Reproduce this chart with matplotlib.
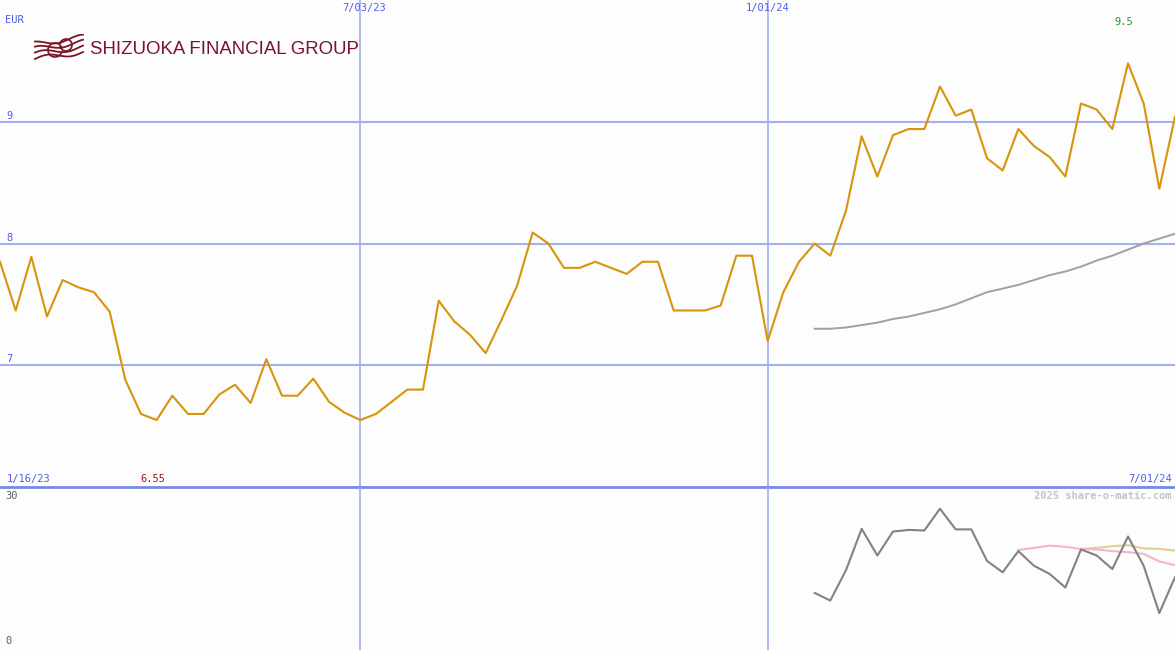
import numpy as np
import pandas as pd
import matplotlib
matplotlib.use("Agg")
import matplotlib.pyplot as plt

# ── data (weekly closes, EUR) ────────────────────────────────────────────────
dates = pd.date_range("2023-01-23", periods=76, freq="7D")
price = [
    7.85, 7.45, 7.89, 7.40, 7.70, 7.64, 7.60, 7.44, 6.88, 6.60,
    6.55, 6.75, 6.60, 6.60, 6.76, 6.84, 6.69, 7.05, 6.75, 6.75,
    6.89, 6.70, 6.61, 6.55, 6.60, 6.70, 6.80, 6.80, 7.53, 7.36,
    7.25, 7.10, 7.37, 7.65, 8.09, 8.00, 7.80, 7.80, 7.85, 7.80,
    7.75, 7.85, 7.85, 7.45, 7.45, 7.45, 7.49, 7.90, 7.90, 7.20,
    7.60, 7.85, 8.00, 7.90, 8.27, 8.88, 8.55, 8.89, 8.94, 8.94,
    9.29, 9.05, 9.10, 8.70, 8.60, 8.94, 8.80, 8.71, 8.55, 9.15,
    9.10, 8.94, 9.48, 9.15, 8.45, 9.04,
]
ma_start = 52
ma = [
    7.30, 7.30, 7.31, 7.33, 7.35, 7.38, 7.40, 7.43, 7.46, 7.50,
    7.55, 7.60, 7.63, 7.66, 7.70, 7.74, 7.77, 7.81, 7.86, 7.90,
    7.95, 8.00, 8.04, 8.08,
]
osc_start = 52
osc = [
    10.5, 9.1, 14.7, 22.3, 17.4, 21.8, 22.1, 22.0, 26.0, 22.2,
    22.2, 16.4, 14.3, 18.2, 15.5, 14.0, 11.5, 18.5, 17.4, 14.9,
    20.9, 15.5, 6.8, 13.4,
]
pink_start = 65
pink = [18.4, 18.8, 19.2, 19.0, 18.6, 18.5, 18.2, 18.0, 17.7, 16.3, 15.6]
tan_start = 69
tan = [18.6, 18.8, 19.1, 19.3, 18.7, 18.6, 18.3]

y_grid = [7, 8, 9]
x_grid = [pd.Timestamp("2023-07-03"), pd.Timestamp("2024-01-01")]
x0, x1 = pd.Timestamp("2023-01-23"), pd.Timestamp("2024-07-01")

# ── style ────────────────────────────────────────────────────────────────────
BG = "#fcfdfc"
GRID = "#a3b0f2"
SEP = "#7888e8"
LBL = "#4f5fe8"
ORANGE = "#d8940a"
MONO = "DejaVu Sans Mono"

W, H = 1175, 650
fig = plt.figure(figsize=(W / 100, H / 100), dpi=100, facecolor=BG)

ax = fig.add_axes([0, 163 / H, 1, 487 / H])
axl = fig.add_axes([0, 0, 1, 163 / H])
for a in (ax, axl):
    a.patch.set_alpha(0)
    a.set_xlim(x0, x1)
    a.set_xticks([])
    a.set_yticks([])
    for s in a.spines.values():
        s.set_visible(False)
    for xv in x_grid:
        a.axvline(xv, color=GRID, lw=1.2, zorder=1)

ax.set_ylim(6, 10)
for yv in y_grid:
    ax.axhline(yv, color=GRID, lw=1.5, zorder=1)
ax.axhline(6, color=SEP, lw=2.0, zorder=2, clip_on=False)

ax.plot(dates, price, color=ORANGE, lw=1.5, zorder=4)
ax.plot(dates[ma_start:], ma, color="#a0a0a0", lw=1.4, zorder=3)

axl.set_ylim(0, 30)
axl.plot(dates[osc_start:], osc, color="#828282", lw=1.5, zorder=4)
axl.plot(dates[pink_start:], pink, color="#f7b4c8", lw=1.5, zorder=3)
axl.plot(dates[tan_start:], tan, color="#e4cc9c", lw=1.5, zorder=2)


def ftxt(x, y, s, color, ha="left", size=7.5, **kw):
    fig.text(x / W, 1 - y / H, s, color=color, ha=ha, va="center",
             fontsize=size, family=MONO, **kw)


ftxt(5, 20, "EUR", LBL)
for yv, yp in zip(y_grid, [359, 238, 116]):
    ftxt(6, yp, str(yv), LBL)
ftxt(364, 8, "7/03/23", LBL, ha="center")
ftxt(768, 8, "1/01/24", LBL, ha="center")
ftxt(1124, 22, "9.5", "#2a9a2a", ha="center")
ftxt(7, 479, "1/16/23", LBL)
ftxt(140, 479, "6.55", "#a01818")
ftxt(1172, 479, "7/01/24", LBL, ha="right")
ftxt(5, 496, "30", "#606060")
ftxt(5, 641, "0", "#606060")
ftxt(1172, 496, "2025 share-o-matic.com", "#c4c4c4", ha="right",
     fontweight="bold")

# ── logo ─────────────────────────────────────────────────────────────────────
LOGO = "#7a1428"
fig.text(90 / W, 1 - 50 / H, "SHIZUOKA FINANCIAL GROUP", color=LOGO,
         fontsize=13.4, family="Liberation Sans", ha="left", va="center")
lax = fig.add_axes([33 / W, 1 - 64 / H, 52 / W, 30 / H])
lax.set_xlim(0, 52)
lax.set_ylim(0, 30)
lax.axis("off")
t = np.linspace(0, 1, 60)
for k, off in enumerate([0, 5, 10, 15]):
    xs = 2 + 48 * t
    ys = 5 + off + 7 * t + 2.5 * np.sin(t * np.pi * 2 + k * 0.6)
    lax.plot(xs, ys, color=LOGO, lw=1.3)
th = np.linspace(0.3, 2 * np.pi - 0.3, 60)
lax.plot(22 + 7 * np.cos(th), 14 + 7 * np.sin(th), color=LOGO, lw=1.2)
lax.plot(33 + 6 * np.cos(th + np.pi), 19 + 6 * np.sin(th + np.pi),
         color=LOGO, lw=1.2)

fig.savefig("out.png", dpi=100, facecolor=BG)
